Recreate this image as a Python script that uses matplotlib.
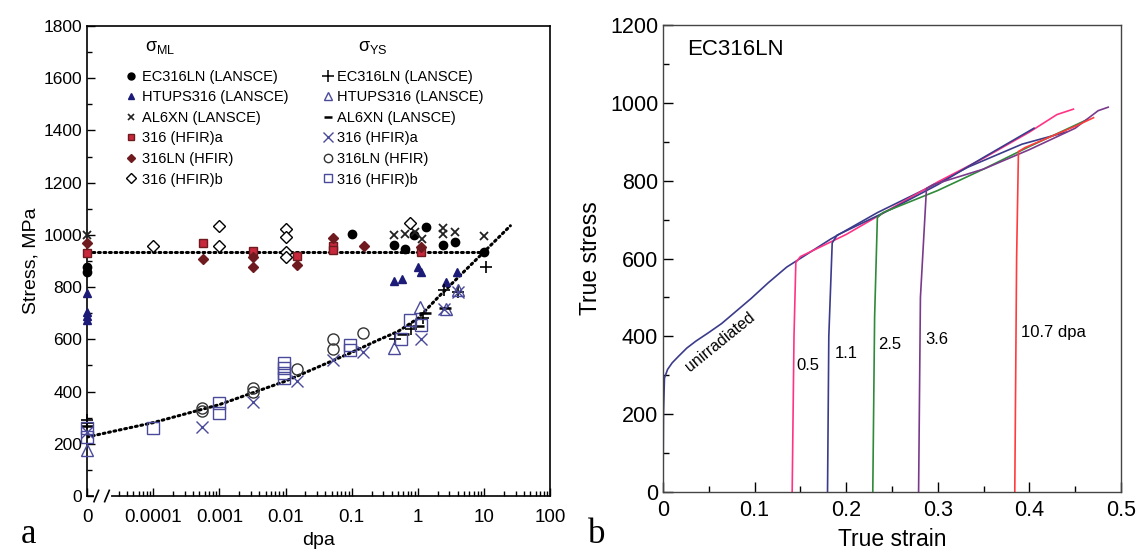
import numpy as np
import matplotlib
matplotlib.use("Agg")
import matplotlib.pyplot as plt
from matplotlib.lines import Line2D

plt.rcParams['font.family'] = ['Liberation Sans', 'DejaVu Sans']
plt.rcParams['mathtext.fontset'] = 'custom'
plt.rcParams['mathtext.rm'] = 'Liberation Sans'
plt.rcParams['mathtext.it'] = 'Liberation Sans'

# ---- panel a : sigma_ML (upper band) ----
ml_ec_dpa = [0, 0, 0.1, 0.43, 0.63, 0.87, 1.33, 2.4, 3.6, 10.1]
ml_ec_mpa = [878, 858, 1003, 961, 945, 1000, 1029, 961, 974, 936]
ml_ht_dpa = [0, 0, 0, 0, 0.43, 0.57, 1.02, 1.1, 2.7, 3.9]
ml_ht_mpa = [777, 705, 690, 675, 823, 831, 878, 859, 821, 859]
ml_al_dpa = [0, 0.43, 0.63, 0.9, 1.15, 2.4, 2.4, 3.6, 10.1]
ml_al_mpa = [1000, 1000, 1005, 1012, 985, 1025, 1005, 1012, 996]
ml_316a_dpa = [0, 5.6e-4, 0.0032, 0.0147, 0.052, 0.052, 1.1]
ml_316a_mpa = [930, 968, 940, 919, 958, 942, 933]
ml_ln_dpa = [0, 5.6e-4, 0.0032, 0.0032, 0.0147, 0.052, 0.154, 1.1]
ml_ln_mpa = [970, 906, 914, 878, 885, 987, 958, 955]
ml_316b_dpa = [1e-4, 0.001, 0.001, 0.01, 0.01, 0.01, 0.01, 0.76]
ml_316b_mpa = [958, 1034, 958, 1021, 991, 936, 917, 1047]

# ---- panel a : sigma_YS (lower band) ----
ys_ec_dpa = [0, 0, 0.45, 0.8, 1.2, 2.5, 4.0, 10.7]
ys_ec_mpa = [291, 280, 600, 640, 680, 790, 780, 878]
ys_ht_dpa = [0, 0.43, 1.06, 2.7, 4.0]
ys_ht_mpa = [176, 566, 725, 716, 789]
ys_al_dpa = [0, 0.6, 1.0, 1.3, 2.6]
ys_al_mpa = [270, 620, 650, 700, 720]
ys_316a_dpa = [0, 5.5e-4, 0.0032, 0.0147, 0.052, 0.148, 1.12, 2.5, 4.0]
ys_316a_mpa = [245, 263, 361, 440, 521, 553, 601, 716, 780]
ys_ln_dpa = [5.5e-4, 5.5e-4, 0.0032, 0.0032, 0.0147, 0.052, 0.052, 0.148]
ys_ln_mpa = [336, 325, 412, 400, 485, 600, 563, 623]
ys_316b_dpa = [0, 0, 1e-4, 9.9e-4, 9.9e-4, 0.0095, 0.0095, 0.0095, 0.0095, 0.094, 0.094, 0.56, 0.75, 1.12]
ys_316b_mpa = [260, 226, 259, 355, 319, 508, 489, 470, 451, 578, 559, 601, 674, 655]

# fit lines
ml_fit_dpa = [0, 10]
ml_fit_mpa = [935, 935]
ys_fit_dpa = [0, 1e-4, 1e-3, 1e-2, 0.1, 0.25, 0.5, 1, 2, 5, 10, 25]
ys_fit_mpa = [226, 281, 350, 440, 550, 597, 630, 680, 760, 860, 935, 1035]

x_ticks = [0, 1e-4, 1e-3, 1e-2, 0.1, 1, 10, 100]
x_ticklabels = ['0', '0.0001', '0.001', '0.01', '0.1', '1', '10', '100']

# ---- panel b : true stress-strain ----
unirr_strain = [0, 0.0005, 0.0016, 0.005, 0.01, 0.0166, 0.026, 0.036, 0.05, 0.064, 0.08, 0.096, 0.115,
                0.135, 0.147, 0.165, 0.183, 0.21, 0.234, 0.26, 0.293, 0.333, 0.392, 0.44]
unirr_stress = [0, 200, 293, 315, 332, 348, 370, 388, 410, 433, 465, 497, 538,
                578, 596, 623, 650, 686, 718, 748, 786, 835, 894, 925]
d05_strain = [0.141, 0.143, 0.145, 0.150, 0.2, 0.25, 0.3, 0.35, 0.4, 0.43, 0.448]
d05_stress = [0, 400, 590, 605, 662, 730, 797, 858, 925, 970, 984]
d11_strain = [0.1796, 0.181, 0.1847, 0.19, 0.25, 0.3, 0.35, 0.405]
d11_stress = [0, 400, 640, 660, 728, 790, 860, 935]
d25_strain = [0.229, 0.231, 0.234, 0.24, 0.3, 0.35, 0.4, 0.463]
d25_stress = [0, 450, 705, 718, 775, 830, 888, 957]
d36_strain = [0.279, 0.281, 0.2876, 0.295, 0.35, 0.4, 0.45, 0.475, 0.486]
d36_stress = [0, 500, 780, 790, 830, 880, 935, 980, 989]
d107_strain = [0.384, 0.386, 0.388, 0.395, 0.42, 0.45, 0.47]
d107_stress = [0, 600, 875, 885, 910, 940, 962]

NAVY = '#1c1c78'
SLATE = '#4a4a9a'
RED = '#c8283c'
DKRED = '#6e1a1e'


def fwd(x):
    return np.log10(np.maximum(np.asarray(x, dtype=float), 1e-5))


def inv(u):
    return 10.0 ** np.asarray(u, dtype=float)


fig = plt.figure(figsize=(11.38, 5.51), dpi=100)
ax1 = fig.add_axes([0.0765, 0.0998, 0.407, 0.853])
ax2 = fig.add_axes([0.5826, 0.107, 0.4025, 0.8475])

# ======== panel a ========
ax1.set_xscale('function', functions=(fwd, inv))
ax1.set_xlim(0, 100)
ax1.set_ylim(0, 1800)

ax1.plot(ml_fit_dpa, ml_fit_mpa, color='black', lw=2.2, ls=(0, (0.6, 1.2)), dash_capstyle='round', zorder=1)
ax1.plot(ys_fit_dpa, ys_fit_mpa, color='black', lw=2.2, ls=(0, (0.6, 1.2)), dash_capstyle='round', zorder=1)

ms = 6
ax1.plot(ml_ec_dpa, ml_ec_mpa, 'o', color='black', ms=ms, clip_on=False, zorder=3)
ax1.plot(ml_ht_dpa, ml_ht_mpa, '^', color=NAVY, ms=ms, clip_on=False, zorder=3)
ax1.plot(ml_al_dpa, ml_al_mpa, 'x', color='#222222', ms=ms, mew=1.3, clip_on=False, zorder=3)
ax1.plot(ml_316a_dpa, ml_316a_mpa, 's', mfc=RED, mec=DKRED, ms=ms, clip_on=False, zorder=3)
ax1.plot(ml_ln_dpa, ml_ln_mpa, 'D', color=DKRED, ms=ms - 1, clip_on=False, zorder=3)
ax1.plot(ml_316b_dpa, ml_316b_mpa, 'D', mfc='white', mec='black', ms=ms, mew=1.0, clip_on=False, zorder=3)

ax1.plot(ys_ec_dpa, ys_ec_mpa, '+', color='black', ms=9, mew=1.2, clip_on=False, zorder=3)
ax1.plot(ys_ht_dpa, ys_ht_mpa, '^', mfc='none', mec=SLATE, ms=8, mew=1.0, clip_on=False, zorder=3)
ax1.plot(ys_al_dpa, ys_al_mpa, '_', color='black', ms=8, mew=1.8, clip_on=False, zorder=3)
ax1.plot(ys_316a_dpa, ys_316a_mpa, 'x', color=SLATE, ms=9, mew=1.0, clip_on=False, zorder=3)
ax1.plot(ys_ln_dpa, ys_ln_mpa, 'o', mfc='none', mec='#333333', ms=8, mew=1.0, clip_on=False, zorder=3)
ax1.plot(ys_316b_dpa, ys_316b_mpa, 's', mfc='none', mec=SLATE, ms=8, mew=1.0, clip_on=False, zorder=3)

ax1.set_xticks(x_ticks)
ax1.set_xticklabels(x_ticklabels)
minor = [m * 10.0 ** k for k in range(-5, 2) for m in range(2, 10)]
minor = [v for v in minor if v > 2.5e-5]
ax1.set_xticks(minor, minor=True)
ax1.set_yticks(np.arange(0, 1801, 200))
ax1.set_yticks(np.arange(0, 1801, 100), minor=True)
ax1.tick_params(which='both', direction='in', top=False, right=False)
ax1.tick_params(axis='y', labelsize=12.5)
ax1.tick_params(axis='x', labelsize=13.5, pad=9)
ax1.tick_params(which='major', length=6, width=1)
ax1.tick_params(which='minor', length=3.5, width=1)
ax1.set_xlabel('dpa', fontsize=14, labelpad=5)
ax1.set_ylabel('Stress, MPa', fontsize=14, labelpad=3)
for sp in ax1.spines.values():
    sp.set_linewidth(1.2)

# axis break marks
ax1.plot([0.019, 0.047], [0.0, 0.0], color='white', lw=3, transform=ax1.transAxes, clip_on=False, zorder=5)
for bx in (0.02, 0.043):
    ax1.plot([bx - 0.005, bx + 0.005], [-0.012, 0.012], color='black', lw=1.2,
             transform=ax1.transAxes, clip_on=False, zorder=6)

# legends
ax1.text(0.125, 0.955, r'$\mathregular{\sigma_{ML}}$', transform=ax1.transAxes, fontsize=13, ha='left', va='center')
ax1.text(0.585, 0.955, r'$\mathregular{\sigma_{YS}}$', transform=ax1.transAxes, fontsize=13, ha='left', va='center')
h_ml = [
    Line2D([], [], ls='', marker='o', color='black', ms=5),
    Line2D([], [], ls='', marker='^', color=NAVY, ms=5),
    Line2D([], [], ls='', marker='x', color='#222222', ms=5, mew=1.2),
    Line2D([], [], ls='', marker='s', mfc=RED, mec=DKRED, ms=5),
    Line2D([], [], ls='', marker='D', color=DKRED, ms=4),
    Line2D([], [], ls='', marker='D', mfc='white', mec='black', ms=5),
]
h_ys = [
    Line2D([], [], ls='', marker='+', color='black', ms=8, mew=1.1),
    Line2D([], [], ls='', marker='^', mfc='none', mec=SLATE, ms=6),
    Line2D([], [], ls='', marker='_', color='black', ms=6, mew=1.8),
    Line2D([], [], ls='', marker='x', color=SLATE, ms=7),
    Line2D([], [], ls='', marker='o', mfc='none', mec='#333333', ms=6),
    Line2D([], [], ls='', marker='s', mfc='none', mec=SLATE, ms=6),
]
labels = ['EC316LN (LANSCE)', 'HTUPS316 (LANSCE)', 'AL6XN (LANSCE)',
          '316 (HFIR)a', '316LN (HFIR)', '316 (HFIR)b']
leg1 = ax1.legend(h_ml, labels, loc='upper left', bbox_to_anchor=(0.083, 0.907), frameon=False,
                  fontsize=10.5, handlelength=0.8, handletextpad=0.3, labelspacing=0.45, borderaxespad=0,
                  borderpad=0)
ax1.add_artist(leg1)
ax1.legend(h_ys, labels, loc='upper left', bbox_to_anchor=(0.508, 0.907), frameon=False,
           fontsize=10.5, handlelength=0.8, handletextpad=0.2, labelspacing=0.45, borderaxespad=0,
           borderpad=0)

# ======== panel b ========
ax2.plot(unirr_strain, unirr_stress, color='#3b3b8c', lw=1.2)
ax2.plot(d05_strain, d05_stress, color='#ff3385', lw=1.2)
ax2.plot(d11_strain, d11_stress, color='#3b3b8c', lw=1.2)
ax2.plot(d25_strain, d25_stress, color='#2f8a3a', lw=1.2)
ax2.plot(d36_strain, d36_stress, color='#7a3a8c', lw=1.2)
ax2.plot(d107_strain, d107_stress, color='#ff3b3b', lw=1.2)

ax2.set_xlim(0, 0.5)
ax2.set_ylim(0, 1200)
ax2.set_xticks(np.arange(0, 0.51, 0.1))
ax2.set_xticklabels(['0', '0.1', '0.2', '0.3', '0.4', '0.5'])
ax2.set_xticks(np.arange(0, 0.51, 0.05), minor=True)
ax2.set_yticks(np.arange(0, 1201, 200))
ax2.set_yticks(np.arange(0, 1201, 100), minor=True)
ax2.tick_params(which='both', direction='in', labelsize=15.5, top=False, right=False)
ax2.tick_params(which='major', length=7, width=1)
ax2.tick_params(which='minor', length=4, width=1)
ax2.tick_params(axis='x', pad=6)
ax2.set_xlabel('True strain', fontsize=16.5, labelpad=5)
ax2.set_ylabel('True stress', fontsize=16.5, labelpad=6)
for sp in ax2.spines.values():
    sp.set_linewidth(1.0)
    sp.set_color('#444444')

ax2.text(0.026, 1138, 'EC316LN', fontsize=16, ha='left', va='center')
ax2.text(0.062, 385, 'unirradiated', fontsize=11.5, rotation=39, ha='center', va='center')
ax2.text(0.146, 325, '0.5', fontsize=12, ha='left', va='center')
ax2.text(0.187, 357, '1.1', fontsize=12, ha='left', va='center')
ax2.text(0.235, 379, '2.5', fontsize=12, ha='left', va='center')
ax2.text(0.286, 393, '3.6', fontsize=12, ha='left', va='center')
ax2.text(0.391, 411, '10.7 dpa', fontsize=12, ha='left', va='center')

fig.text(0.018, 0.015, 'a', fontsize=25, family='Liberation Serif', ha='left', va='baseline')
fig.text(0.517, 0.015, 'b', fontsize=25, family='Liberation Serif', ha='left', va='baseline')

fig.savefig('out.png', dpi=100)
